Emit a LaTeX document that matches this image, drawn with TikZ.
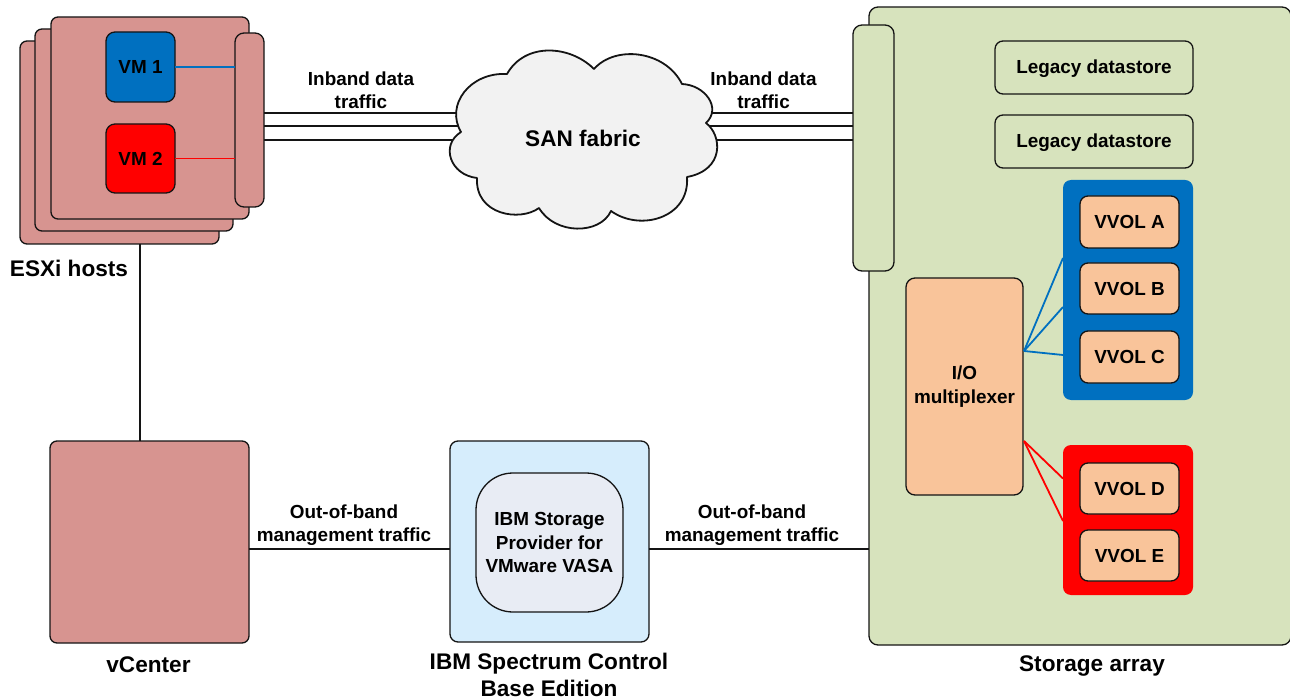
\documentclass[tikz,border=0pt]{standalone}
\usepackage{fontspec}
\setmainfont{Liberation Sans}
\usetikzlibrary{backgrounds}
\definecolor{hostpink}{HTML}{D79490}
\definecolor{arraygreen}{HTML}{D7E3BD}
\definecolor{volorange}{HTML}{F9C49A}
\definecolor{vmblue}{HTML}{0070C0}
\definecolor{vmred}{HTML}{FF0000}
\definecolor{provblue}{HTML}{D6EDFC}
\definecolor{provgrey}{HTML}{E8ECF4}
\definecolor{cloudgrey}{HTML}{F2F2F2}
\definecolor{inkline}{HTML}{141414}
\tikzset{
  x=1pt,y=-1pt,
  base/.style={rectangle,inner sep=0pt,outer sep=0pt,align=center,draw=inkline,line width=1.3pt,rounded corners=7pt,font=\bfseries\fontsize{18.9}{23.5}\selectfont,text=black},
  host/.style={base,fill=hostpink},
  vmone/.style={base,fill=vmblue,rounded corners=9pt},
  vmtwo/.style={base,fill=vmred,rounded corners=9pt},
  hostport/.style={base,fill=hostpink,rounded corners=9pt},
  arrayport/.style={base,fill=arraygreen,rounded corners=9pt},
  storage/.style={base,fill=arraygreen,rounded corners=9pt},
  legacy/.style={base,fill=arraygreen,rounded corners=8pt,text depth=2.5pt},
  pool/.style={base,draw=none,rounded corners=8pt},
  vol/.style={base,fill=volorange,rounded corners=8pt},
  mux/.style={base,fill=volorange,rounded corners=9pt},
  provider/.style={base,fill=provblue,rounded corners=8pt},
  vasa/.style={base,fill=provgrey,rounded corners=37pt},
  label/.style={inner sep=0pt,outer sep=0pt,align=center,font=\bfseries\fontsize{18.9}{23}\selectfont,text=black},
  biglabel/.style={inner sep=0pt,outer sep=0pt,align=center,font=\bfseries\fontsize{22.6}{27}\selectfont,text=black},
  wire/.style={draw=inkline,line width=2pt},
  thinwire/.style={draw=inkline,line width=2pt},
  bluewire/.style={draw=vmblue,line width=1.8pt},
  redwire/.style={draw=vmred,line width=1.8pt},
}
\newcommand{\bx}[7]{\node[#6,minimum width={(#4-#2)*1pt},minimum height={(#5-#3)*1pt}] (#1) at ({(#2+#4)/2},{(#3+#5)/2}) {#7};}
\begin{document}
\begin{tikzpicture}
\useasboundingbox (0,0) rectangle (1290,700);
% storage array, its right side at the picture edge
\begin{scope}
\clip (0,0) rectangle (1290,700);
\bx{storagearray}{869}{7}{1291}{645}{storage}{}
\end{scope}
% ESXi hosts
\bx{hostc}{20}{41}{219}{244}{host}{}
\bx{hostb}{35}{29}{233}{231}{host}{}
\bx{hosta}{51}{17}{249}{219}{host}{}
\bx{esxport}{235}{33}{264}{207}{hostport}{}
\bx{vmA}{106}{32}{175}{102}{vmone}{VM 1}
\bx{vmB}{106}{124}{175}{193}{vmtwo}{VM 2}
\draw[bluewire] (vmA.east) -- (vmA.east -| esxport.west);
\draw[redwire] (vmB.east) -- (vmB.east -| esxport.west);
% SAN
\node[biglabel,minimum width=200pt,minimum height=70pt] (san) at (583,138) {SAN fabric};
% storage port and contents
\bx{arrayport}{853}{25}{894}{271}{arrayport}{}
\bx{legacyA}{995}{41}{1193}{94}{legacy}{Legacy datastore}
\bx{legacyB}{995}{115}{1193}{168}{legacy}{Legacy datastore}
\bx{poolblue}{1063}{180}{1193}{400}{pool,fill=vmblue}{}
\bx{poolred}{1063}{445}{1193}{595}{pool,fill=vmred}{}
\bx{volA}{1080}{196}{1179}{248}{vol}{VVOL A}
\bx{volB}{1080}{263}{1179}{314}{vol}{VVOL B}
\bx{volC}{1080}{331}{1179}{383}{vol}{VVOL C}
\bx{volD}{1080}{463}{1179}{514}{vol}{VVOL D}
\bx{volE}{1080}{530}{1179}{581}{vol}{VVOL E}
\bx{iomux}{906}{278}{1023}{495}{mux}{I/O\\multiplexer}
\coordinate (muxblue) at (1024,351);
\coordinate (muxred) at (1024,441);
\coordinate (blueA) at (1063,258);
\coordinate (blueB) at (1063,307);
\coordinate (blueC) at (1063,355);
\coordinate (redA) at (1063,478.5);
\coordinate (redB) at (1063,521);
\draw[bluewire] (muxblue) -- (blueA);
\draw[bluewire] (muxblue) -- (blueB);
\draw[bluewire] (muxblue) -- (blueC);
\draw[redwire] (muxred) -- (redA);
\draw[redwire] (muxred) -- (redB);
% management
\bx{vcenter}{50}{441}{249}{643}{host}{}
\bx{spectrum}{450}{441}{649}{642}{provider}{}
\bx{vasa}{476}{473}{623}{612}{vasa}{IBM Storage\\Provider for\\VMware VASA}
\coordinate (hostdrop) at (140,244);
\coordinate (mgmt) at (0,549);
\draw[thinwire] (hostdrop) -- (hostdrop |- vcenter.north);
\draw[thinwire] (vcenter.east |- mgmt) -- (spectrum.west |- mgmt);
\draw[thinwire] (spectrum.east |- mgmt) -- (storagearray.west |- mgmt);
% labels
\node[biglabel] (lblhosts) at (69,268) {ESXi hosts};
\node[biglabel] (lblvc) at (148.5,665) {vCenter};
\node[biglabel] (lblibm) at (549,675) {IBM Spectrum Control\\Base Edition};
\node[biglabel] (lblarr) at (1092,666) {Storage array};
\node[label] (lblin1) at (361,90) {Inband data\\traffic};
\node[label] (lblin2) at (763.5,90) {Inband data\\traffic};
\node[label] (lblout1) at (344,525) {Out-of-band\\management traffic};
\node[label] (lblout2) at (752,525) {Out-of-band\\management traffic};
% data lines and cloud beneath the SAN label
\begin{pgfonlayer}{background}
\foreach \yy/\nm in {113/a,126.5/b,140/c}{
  \coordinate (lane\nm) at (0,\yy);
  \draw[wire] (esxport.east |- lane\nm) -- (san.west |- lane\nm);
  \draw[wire] (san.east |- lane\nm) -- (arrayport.west |- lane\nm);
}
\draw[fill=cloudgrey,draw=inkline,line width=1.8pt,line join=round]
  (507,74) .. controls (525,42) and (570,45) .. (594,69)
  .. controls (615,45) and (665,50) .. (682,84)
  .. controls (705,85) and (722,108) .. (706,123)
  .. controls (722,135) and (725,170) .. (687,177)
  .. controls (690,218) and (640,232) .. (611,211)
  .. controls (600,235) and (555,235) .. (539,208)
  .. controls (520,222) and (475,215) .. (477,178)
  .. controls (450,175) and (440,145) .. (461,132)
  .. controls (445,105) and (470,72) .. (507,74) -- cycle;
\end{pgfonlayer}
\end{tikzpicture}
\end{document}
